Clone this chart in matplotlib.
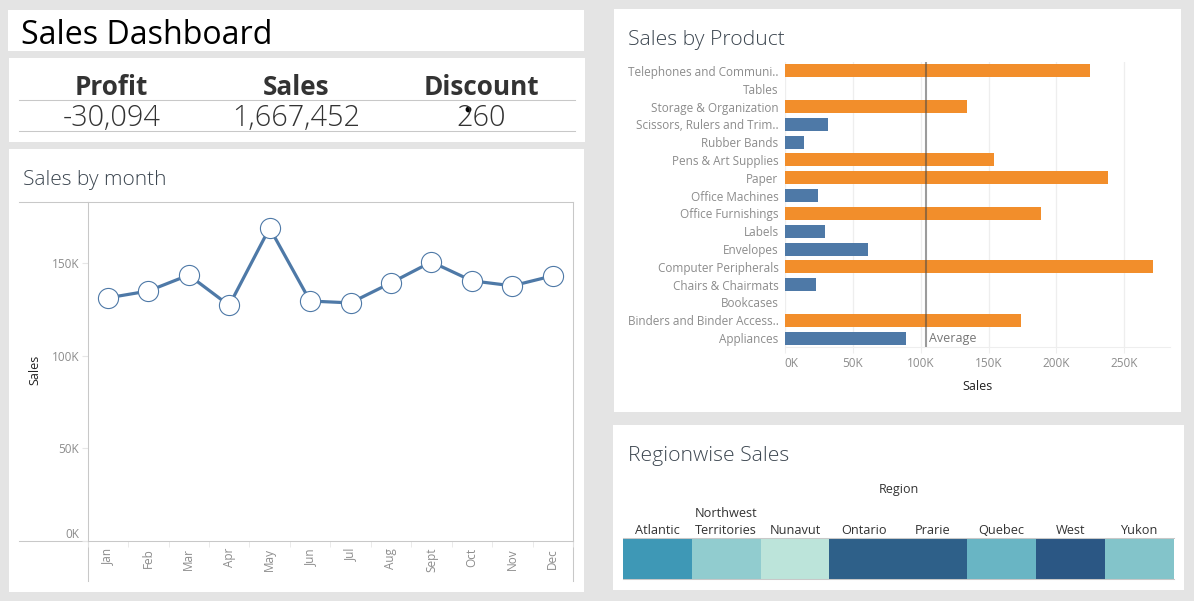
# Sales dashboard: KPI strip, monthly line, product bars and region strip
import matplotlib
matplotlib.use('Agg')
import matplotlib.pyplot as plt
from matplotlib.colors import LinearSegmentedColormap, Normalize
from matplotlib.patches import Rectangle
import numpy as np

plt.rcParams['font.family'] = ['Open Sans', 'DejaVu Sans']

# --- Data ---
kpi_names = ['Profit', 'Sales', 'Discount']
kpi_values = ['-30,094', '1,667,452', '260']

months = ['Jan', 'Feb', 'Mar', 'Apr', 'May', 'Jun', 'Jul', 'Aug', 'Sept', 'Oct', 'Nov', 'Dec']
month_sales = [131100, 134800, 143400, 127000, 168800, 129400,
               128400, 139200, 150500, 140300, 137600, 143000]

products = ['Telephones and Communi..', 'Tables', 'Storage & Organization',
            'Scissors, Rulers and Trim..', 'Rubber Bands', 'Pens & Art Supplies',
            'Paper', 'Office Machines', 'Office Furnishings', 'Labels', 'Envelopes',
            'Computer Peripherals', 'Chairs & Chairmats', 'Bookcases',
            'Binders and Binder Access..', 'Appliances']
# Tables and Bookcases show no bar in the picture
product_sales = [224600, np.nan, 134200, 31800, 14200, 154000, 238000, 24300,
                 188600, 29600, 61100, 271200, 22900, np.nan, 173800, 89300]
average_sales = 103800

regions = ['Atlantic', 'Northwest\nTerritories', 'Nunavut', 'Ontario',
           'Prarie', 'Quebec', 'West', 'Yukon']
region_sales = [215000, 115000, 20000, 315000, 315000, 165000, 330000, 135000]

# --- Style ---
W, H = 1194, 601
BLUE = '#4e79a7'
ORANGE = '#f28e2b'
GRID = '#c8c8c8'
TICK = '#8c8c8c'
TITLE = '#3c4650'
DARK = '#333333'


def px_axes(fig, x0, y0, x1, y1):
    # axes placed with picture pixels, y measured from the top
    return fig.add_axes([x0 / W, 1 - y1 / H, (x1 - x0) / W, (y1 - y0) / H])


fig = plt.figure(figsize=(W / 100, H / 100), dpi=100, facecolor='#e4e4e4')

# Background layer in pixel coordinates for panels and free text
bg = fig.add_axes([0, 0, 1, 1], zorder=0)
bg.set_xlim(0, W)
bg.set_ylim(H, 0)
bg.axis('off')

for x0, y0, x1, y1 in [(8, 10, 584, 51), (9, 58, 585, 142), (9, 149, 584, 592),
                       (614, 9, 1181, 412), (613, 425, 1184, 590)]:
    bg.add_patch(Rectangle((x0, y0), x1 - x0, y1 - y0, color='white', lw=0))

bg.text(21, 35, 'Sales Dashboard', fontsize=23.1, color='black', va='center')
bg.text(23, 180, 'Sales by month', fontsize=15, color=TITLE, va='center', fontweight='light')
bg.text(628, 40, 'Sales by Product', fontsize=15.2, color=TITLE, va='center', fontweight='light')
bg.text(628, 456, 'Regionwise Sales', fontsize=15.2, color=TITLE, va='center', fontweight='light')

# KPI strip
for x, name, value in zip([111.7, 296.6, 481.4], kpi_names, kpi_values):
    bg.text(x, 87.5, name, fontsize=18.8, fontweight='bold', color=DARK, ha='center', va='center')
    bg.text(x, 118.5, value, fontsize=20.8, color=DARK, ha='center', va='center', fontweight='light')
bg.plot([19, 575], [100.3, 100.3], color=GRID, lw=0.75)
bg.plot([19, 575], [131.3, 131.3], color=GRID, lw=0.75)
# stray mouse pointer dot over the discount value
bg.plot([468.4], [109], 'o', color='black', ms=3.2)

# --- Line chart ---
ax1 = px_axes(fig, 87.6, 202, 573, 541)
x_months = np.arange(len(months))
ax1.plot(x_months, month_sales, color=BLUE, lw=2.3, marker='o', ms=14.5,
         mfc='white', mec=BLUE, mew=0.8, clip_on=False)
ax1.set_xlim(-0.5, len(months) - 0.5)
ax1.set_ylim(0, 182800)
ax1.set_yticks([0, 50000, 100000, 150000])
ax1.set_yticklabels(['0K', '50K', '100K', '150K'], fontsize=8.5, color=TICK)
ax1.get_yticklabels()[0].set_va('bottom')
ax1.tick_params(axis='y', length=4, color='#e6e6e6', pad=2)
ax1.set_xticks(x_months)
ax1.set_xticklabels(months, rotation=90, fontsize=8.5, color=TICK)
ax1.tick_params(axis='x', length=0, pad=5)
ax1.set_xticks(np.arange(len(months) + 1) - 0.5, minor=True)
ax1.tick_params(axis='x', which='minor', length=4, color='#e6e6e6')
for side in ax1.spines.values():
    side.set_color(GRID)
    side.set_linewidth(0.75)
# axis rules that run past the plot area
bg.plot([19, 87.6], [202, 202], color=GRID, lw=0.75)
bg.plot([19, 87.6], [541, 541], color=GRID, lw=0.75)
bg.plot([87.6, 87.6], [541, 580.6], color=GRID, lw=0.75)
bg.plot([573, 573], [541, 580.6], color=GRID, lw=0.75)
bg.text(35, 370, 'Sales', fontsize=9, color='#222222', rotation=90, ha='center', va='center')

# --- Bar chart ---
ax2 = px_axes(fig, 784.8, 62, 1170, 347)
y_products = np.arange(len(products))
bar_colors = [ORANGE if v > average_sales else BLUE for v in np.nan_to_num(product_sales)]
ax2.barh(y_products, np.nan_to_num(product_sales), height=0.73, color=bar_colors, zorder=2)
ax2.axvline(average_sales, color='#4a4a4a', lw=1.5, alpha=0.55, zorder=3)
ax2.set_ylim(len(products) - 0.5, -0.5)
ax2.set_xlim(0, 283600)
ax2.set_yticks(y_products)
ax2.set_yticklabels(products, fontsize=8.5, color=TICK)
ax2.tick_params(axis='y', length=0, pad=4.5)
ax2.set_xticks([0, 50000, 100000, 150000, 200000, 250000])
ax2.set_xticklabels(['0K', '50K', '100K', '150K', '200K', '250K'], fontsize=8.5, color=TICK)
ax2.get_xticklabels()[0].set_ha('left')
ax2.tick_params(axis='x', length=4, color='#eeeeee', pad=3)
ax2.grid(axis='x', color='#eeeeee', lw=0.9, zorder=0)
ax2.set_axisbelow(True)
for name, side in ax2.spines.items():
    side.set_visible(name == 'bottom')
    side.set_color('#eeeeee')
ax2.text(average_sales + 2300, 15, 'Average', fontsize=9, color='#777777', va='center')
bg.text(977.5, 386.5, 'Sales', fontsize=9, color='#222222', ha='center', va='center')

# --- Region strip ---
ax3 = px_axes(fig, 623, 538, 1173.5, 579)
ramp = LinearSegmentedColormap.from_list('teal_blue', [
    (0.0, '#bce4da'), (0.3016, '#92cdcf'), (0.3651, '#84c5ca'), (0.4603, '#6bb6c4'),
    (0.6190, '#3f9ab8'), (0.9524, '#2e6089'), (1.0, '#2b5784')])
ax3.pcolormesh(np.arange(len(regions) + 1), [0, 1], [region_sales], cmap=ramp,
               norm=Normalize(20000, 330000))
ax3.set_xticks(np.arange(len(regions)) + 0.5)
ax3.set_xticklabels(regions, fontsize=9.2, color=DARK, linespacing=1.35)
ax3.xaxis.tick_top()
ax3.tick_params(axis='x', length=0, pad=1)
ax3.set_yticks([])
for name, side in ax3.spines.items():
    side.set_visible(name in ('top', 'bottom'))
    side.set_color(GRID)
    side.set_linewidth(0.75)
bg.text(898.5, 490, 'Region', fontsize=9, color=DARK, ha='center', va='center')

fig.savefig('out.png', dpi=100, facecolor=fig.get_facecolor())
